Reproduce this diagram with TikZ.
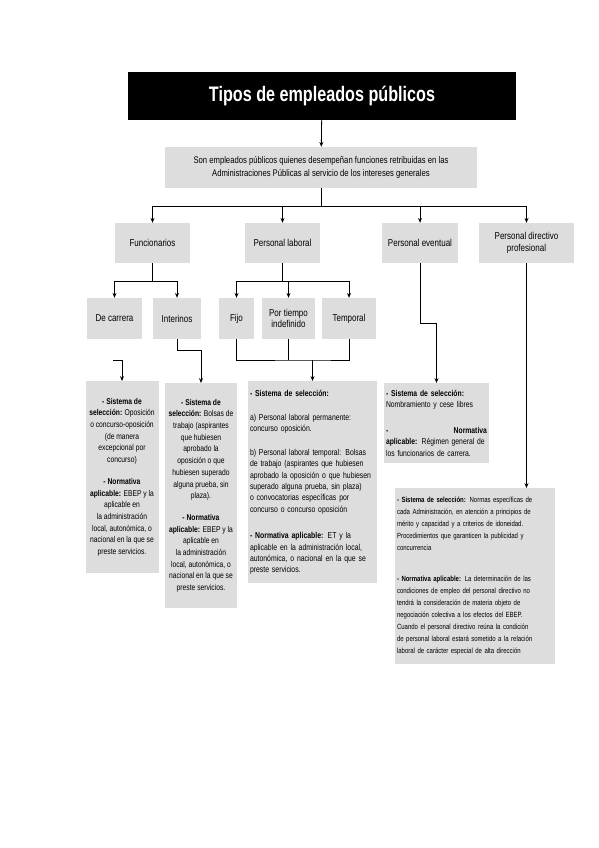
\documentclass[tikz,border=0pt]{standalone}
\usepackage{fontspec}
\setmainfont{Liberation Sans}[FakeStretch=0.8]
\newfontfamily\titlefont{Liberation Sans}[FakeStretch=0.77]
\usepackage{xcolor}
\definecolor{boxgray}{HTML}{DDDDDD}
\usetikzlibrary{arrows.meta,positioning}
\tikzset{
  >={Stealth[length=1.7mm,width=1.4mm]},
  gbox/.style={fill=boxgray,inner sep=2pt,align=center,font=\fontsize{10}{11.5}\selectfont},
  tbox/.style={gbox,anchor=north,font=\fontsize{8.4}{11.7}\selectfont},
  arr/.style={->,line width=0.8pt},
  ln/.style={line width=0.8pt},
}
\newcommand{\jl}[1]{\makebox[\linewidth][s]{#1}}

\begin{document}
\begin{tikzpicture}[x=1pt,y=-1pt]
\useasboundingbox (0,0) rectangle (599,848);
\node[fill=black,text=white,minimum width=388pt,minimum height=48pt,font=\titlefont\bfseries\fontsize{21}{24}\selectfont] (title) at (322,96) {Tipos de empleados públicos};
\node[gbox,minimum width=312pt,minimum height=41pt,font=\fontsize{9.6}{13}\selectfont] (intro) at (321,167.5) {Son empleados públicos quienes desempeñan funciones retribuidas en las\\Administraciones Públicas al servicio de los intereses generales};
\node[gbox,minimum width=75pt,minimum height=40pt] (func) at (152.5,243) {Funcionarios};
\node[gbox,minimum width=75pt,minimum height=40pt] (lab) at (282.5,243) {Personal laboral};
\node[gbox,minimum width=76pt,minimum height=40pt] (event) at (420,243) {Personal eventual};
\node[gbox,minimum width=95pt,minimum height=40pt] (direc) at (526.5,243) {Personal directivo\\profesional};
\node[gbox,minimum width=55pt,minimum height=41pt] (carr) at (114.5,318.5) {De carrera};
\node[gbox,minimum width=48pt,minimum height=41pt] (inter) at (177,318.5) {Interinos};
\node[gbox,minimum width=35pt,minimum height=41pt] (fijo) at (236.5,318.5) {Fijo};
\node[gbox,minimum width=53pt,minimum height=41pt] (indef) at (288.5,318.5) {Por tiempo\\indefinido};
\node[gbox,minimum width=54pt,minimum height=41pt] (temp) at (349,318.5) {Temporal};

\node[tbox,minimum width=73pt,minimum height=192pt] (boxA) at (122,381) {\textbf{- Sistema de}\\\textbf{selección:} Oposición\\o concurso-oposición\\(de manera\\excepcional por\\concurso)\\[10pt]
\textbf{- Normativa}\\\textbf{aplicable:} EBEP y la\\aplicable en\\la administración\\local, autonómica, o\\nacional en la que se\\preste servicios.};
\node[tbox,minimum width=72pt,minimum height=225pt] (boxB) at (201,383) {\textbf{- Sistema de}\\\textbf{selección:} Bolsas de\\trabajo (aspirantes\\que hubiesen\\aprobado la\\oposición o que\\hubiesen superado\\alguna prueba, sin\\plaza).\\[10pt]
\textbf{- Normativa}\\\textbf{aplicable:} EBEP y la\\aplicable en\\la administración\\local, autonómica, o\\nacional en la que se\\preste servicios.};
\node[tbox,align=left,text width=125pt,minimum height=202pt,font=\fontsize{8.6}{11.4}\selectfont] (boxC) at (312.5,381) {\textbf{- Sistema de selección:}\\[13pt]
a) Personal laboral permanente:\\concurso oposición.\\[12pt]
\jl{b) Personal laboral temporal: Bolsas}\\\jl{de trabajo (aspirantes que hubiesen}\\\jl{aprobado la oposición o que hubiesen}\\\jl{superado alguna prueba, sin plaza)}\\\jl{o convocatorias específicas por}\\concurso o concurso oposición\\[15pt]
\jl{\textbf{- Normativa aplicable:} ET y la}\\\jl{aplicable en la administración local,}\\\jl{autonómica, o nacional en la que se}\\preste servicios.};
\node[tbox,align=left,text width=101pt,minimum height=80pt,font=\fontsize{8.5}{11.5}\selectfont] (boxD) at (436.5,383) {\textbf{- Sistema de selección:}\\Nombramiento y cese libres\\[14pt]
\jl{\textbf{-}\hfill\textbf{Normativa}}\\\jl{\textbf{aplicable:} Régimen general de}\\los funcionarios de carrera.};
\node[tbox,align=left,text width=156pt,minimum height=176pt,font=\fontsize{7.5}{12}\selectfont] (boxE) at (475,488) {\jl{\textbf{- Sistema de selección:} Normas específicas de}\\\jl{cada Administración, en atención a principios de}\\\jl{mérito y capacidad y a criterios de idoneidad.}\\\jl{Procedimientos que garanticen la publicidad y}\\concurrencia\\[19pt]
\jl{\textbf{- Normativa aplicable:} La determinación de las}\\\jl{condiciones de empleo del personal directivo no}\\\jl{tendrá la consideración de materia objeto de}\\\jl{negociación colectiva a los efectos del EBEP.}\\\jl{Cuando el personal directivo reúna la condición}\\\jl{de personal laboral estará sometido a la relación}\\laboral de carácter especial de alta dirección};

\coordinate (bus) at (321,206);
\coordinate (fbus) at (152.5,281);
\coordinate (lbus) at (282.5,281);
\coordinate (cstub) at (113,360);
\coordinate (ljoin) at (312.5,360);
\draw[arr] (title) -- (intro);
\draw[ln] (intro) -- (bus);
\foreach \n in {func,lab,event,direc} \draw[arr] (bus) -| (\n);
\draw[ln] (func) -- (fbus); \draw[arr] (fbus) -| (carr); \draw[arr] (fbus) -| (inter);
\draw[ln] (lab) -- (lbus);
\foreach \n in {fijo,indef,temp} \draw[arr] (lbus) -| (\n);
\draw[arr] (cstub) -| (boxA);
\draw[arr] (inter.south) -- ++(0,11) -| (boxB);
\draw[ln] (fijo.south) |- (ljoin) -| (temp.south); \draw[ln] (indef) -- (indef |- ljoin); \draw[arr] (ljoin) -- (boxC);
\draw[arr] (event.south) -- ++(0,60) -| (boxD);
\draw[arr] (direc.south) -- (direc.south |- boxE.north);
\end{tikzpicture}
\end{document}
